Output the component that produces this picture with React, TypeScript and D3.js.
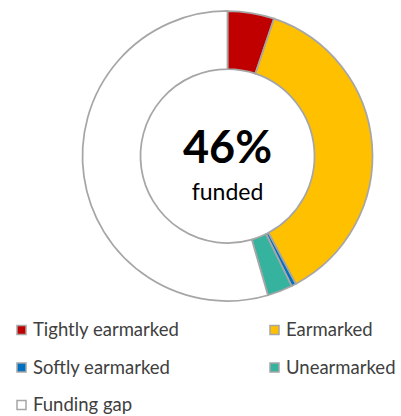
import React from "react";
import * as d3 from "d3";

const categories = ["Tightly earmarked", "Earmarked", "Softly earmarked", "Unearmarked", "Funding gap"];
const values = [5.2, 37.0, 0.5, 2.8, 54.5];
const colors = ["#c00000", "#ffc000", "#0070c0", "#36b39f", "#ffffff"];
const centerLabel = "46%";
const centerSub = "funded";

export default function App() {
  const W = 401, H = 416;
  const cx = 227.5, cy = 156;
  const rOuter = 145, rInner = 87;
  const pie = d3.pie<number>().sort(null).value((d) => d);
  const arcs = pie(values);
  const arcGen = d3.arc<d3.PieArcDatum<number>>().innerRadius(rInner).outerRadius(rOuter);
  const legendCols = [16, 269];
  const legendRows = [330, 367.5, 405];
  const font = "Lato, 'Open Sans', sans-serif";
  return (
    <svg width={W} height={H} style={{ position: "absolute", left: 0, top: 0 }}>
      <rect width={W} height={H} fill="#fff" />
      <g transform={`translate(${cx},${cy})`}>
        {arcs.map((a, i) => (
          <path key={i} d={arcGen(a) || ""} fill={colors[i]} stroke="#a6a6a6" strokeWidth={1.75} />
        ))}
        <text y={7} textAnchor="middle" fontFamily={font} fontWeight="bold" fontSize={45} fill="#000">
          {centerLabel}
        </text>
        <text y={44} textAnchor="middle" fontFamily={font} fontSize={23} fill="#000">
          {centerSub}
        </text>
      </g>
      {categories.map((c, i) => {
        const x = legendCols[i % 2];
        const y = legendRows[Math.floor(i / 2)];
        return (
          <g key={c} transform={`translate(${x},${y})`}>
            <rect x={1} y={-4.5} width={9} height={9} fill={colors[i]} stroke="#a6a6a6" strokeWidth={1.5} />
            <text x={17} y={0} dy="0.35em" fontFamily={font} fontSize={18.5} fill="#404040">
              {c}
            </text>
          </g>
        );
      })}
    </svg>
  );
}
